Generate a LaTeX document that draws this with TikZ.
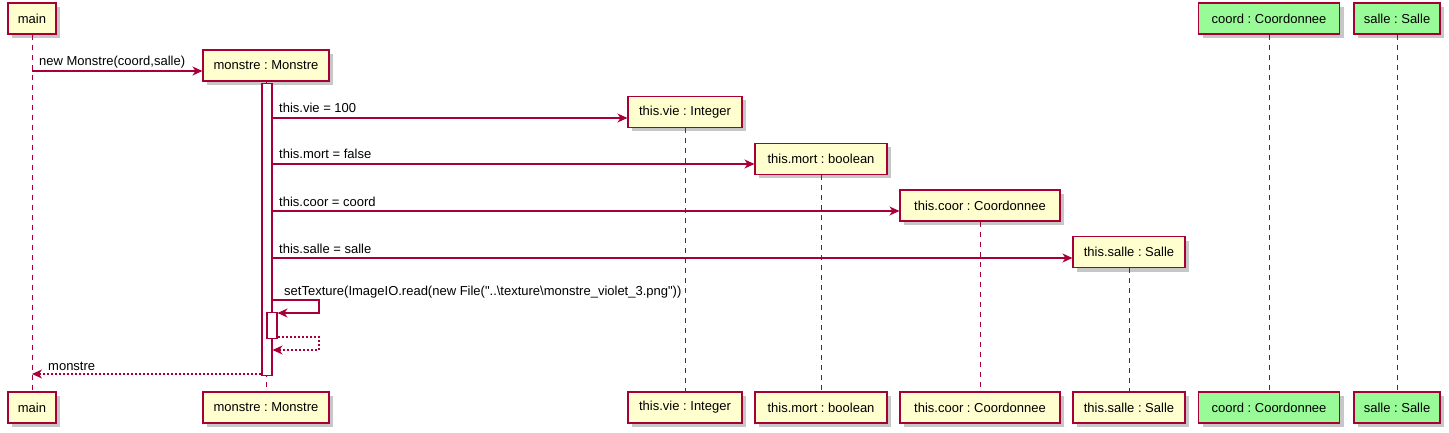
\documentclass[tikz,border=0pt]{standalone}
\usepackage{fontspec}
\setmainfont{Liberation Sans}[Ligatures=TeXOff]
\usetikzlibrary{arrows.meta,shadows}
\frenchspacing

\definecolor{umlred}{HTML}{A80036}
\definecolor{umlfill}{HTML}{FEFECE}
\definecolor{umlgreen}{RGB}{152,251,152}

\tikzset{
  part/.style={draw=umlred, fill=umlfill, line width=1.1pt, minimum height=31pt, inner sep=0pt,
    font=\fontsize{13}{15}\selectfont,
    drop shadow={shadow xshift=4pt, shadow yshift=-4pt, fill=black, opacity=0.22}},
  greenpart/.style={part, fill=umlgreen},
  life/.style={draw=umlred, line width=1pt, dash pattern=on 5pt off 5pt},
  msg/.style={draw=umlred, line width=1.1pt, -{Stealth[length=10pt,width=9pt,inset=3pt]}},
  reply/.style={msg, dash pattern=on 2pt off 2pt},
  lbl/.style={anchor=base west, inner sep=0pt, font=\fontsize{13}{15}\selectfont},
  actbar/.style={draw=umlred, fill=white, line width=1.1pt, minimum width=10pt, inner sep=0pt, anchor=north},
}

\begin{document}
\begin{tikzpicture}[x=1pt,y=-1pt]

\useasboundingbox (0,0) rectangle (1449,433);

\node[part, minimum width=48pt] (main) at (32,18.5) {main};
\node[part, minimum width=126pt] (mon) at (266,65.5) {monstre : Monstre};
\node[part, minimum width=114pt] (vie) at (685,112) {this.vie : Integer};
\node[part, minimum width=132pt] (mort) at (821,159) {this.mort : boolean};
\node[part, minimum width=160pt] (coor) at (980,205.5) {this.coor : Coordonnee};
\node[part, minimum width=112pt] (sal) at (1129,252) {this.salle : Salle};
\node[greenpart, minimum width=141pt] (coord) at (1269,18.5) {coord : Coordonnee};
\node[greenpart, minimum width=86pt] (salle) at (1397,18.5) {salle : Salle};

\node[part, minimum width=48pt] (mainB) at (32,407.5) {main};
\node[part, minimum width=126pt] (monB) at (266,407.5) {monstre : Monstre};
\node[part, minimum width=114pt] (vieB) at (685,407.5) {this.vie : Integer};
\node[part, minimum width=132pt] (mortB) at (821,407.5) {this.mort : boolean};
\node[part, minimum width=160pt] (coorB) at (980,407.5) {this.coor : Coordonnee};
\node[part, minimum width=112pt] (salB) at (1129,407.5) {this.salle : Salle};
\node[greenpart, minimum width=141pt] (coordB) at (1269,407.5) {coord : Coordonnee};
\node[greenpart, minimum width=86pt] (salleB) at (1397,407.5) {salle : Salle};

\foreach \p in {main,mon,vie,mort,coor,sal,coord,salle}
  \draw[life] (\p.south) -- (\p B.north);

\node[actbar, minimum height=292pt] (act) at (267,83) {};
\node[actbar, minimum height=26pt] (sub) at (272,312) {};

\coordinate (m1) at (main.south |- 0,71);
\draw[msg] (m1) -- (m1 -| mon.west);
\node[lbl] at (39,66) {new Monstre(coord,salle)};

\coordinate (m2) at (act.east |- 0,118);
\draw[msg] (m2) -- (m2 -| vie.west);
\node[lbl] at (279,113) {this.vie = 100};

\coordinate (m3) at (act.east |- 0,164);
\draw[msg] (m3) -- (m3 -| mort.west);
\node[lbl] at (279,159) {this.mort = false};

\coordinate (m4) at (act.east |- 0,211);
\draw[msg] (m4) -- (m4 -| coor.west);
\node[lbl] at (279,206) {this.coor = coord};

\coordinate (m5) at (act.east |- 0,258);
\draw[msg] (m5) -- (m5 -| sal.west);
\node[lbl] at (279,253) {this.salle = salle};

\coordinate (m6) at (act.east |- 0,300);
\coordinate (m6b) at (319,313);
\draw[msg] (m6) -| (m6b) -- (m6b -| sub.east);
\node[lbl] at (284,295) {setTexture(ImageIO.read(new File("..\textbackslash texture\textbackslash monstre\_violet\_3.png"))};

\coordinate (r1) at (sub.east |- 0,337);
\coordinate (r1b) at (319,350);
\draw[reply] (r1) -| (r1b) -- (r1b -| act.east);

\coordinate (r2) at (act.west |- 0,374);
\draw[reply] (r2) -- (r2 -| main.south);
\node[lbl] at (48,370) {monstre};

\end{tikzpicture}
\end{document}
